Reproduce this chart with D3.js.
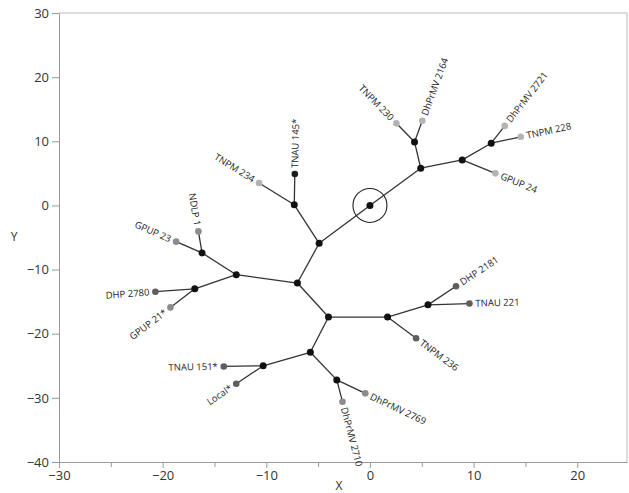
<!DOCTYPE html>
<html>
<head>
<meta charset="utf-8">
<script src="https://cdn.jsdelivr.net/npm/d3@7"></script>
<style>
  body { margin: 0; background: #fff; }
  text { font-family: "Open Sans", "Noto Sans", sans-serif; }
</style>
</head>
<body>
<div id="chart"></div>
<script>
// internal (unlabelled) nodes of the tree
const nodes = [
  {id: "root", x: 0, y: 0},
  {id: "A", x: 4.9, y: 5.8},
  {id: "B", x: 4.3, y: 9.9},
  {id: "C", x: 8.9, y: 7.1},
  {id: "D", x: 11.7, y: 9.7},
  {id: "E", x: -7.3, y: 0.1},
  {id: "F", x: -4.9, y: -5.9},
  {id: "G", x: -16.2, y: -7.4},
  {id: "H", x: -12.9, y: -10.8},
  {id: "I", x: -7.0, y: -12.1},
  {id: "J", x: -16.9, y: -13.0},
  {id: "K", x: -5.75, y: -22.9},
  {id: "L", x: -10.3, y: -25.0},
  {id: "M", x: -4.0, y: -17.4},
  {id: "N", x: 1.7, y: -17.4},
  {id: "O", x: 5.6, y: -15.5},
  {id: "P", x: -3.2, y: -27.2}
];

// labelled leaves, shade = grey level group
const leaves = [
  {id: "TNPM 230", x: 2.55, y: 12.8, shade: 1},
  {id: "DhPrMV 2164", x: 5.05, y: 13.2, shade: 1},
  {id: "DhPrMV 2721", x: 13.0, y: 12.4, shade: 1},
  {id: "TNPM 228", x: 14.55, y: 10.7, shade: 1},
  {id: "GPUP 24", x: 12.1, y: 5.0, shade: 1},
  {id: "TNAU 145*", x: -7.25, y: 4.9, shade: 4},
  {id: "TNPM 234", x: -10.7, y: 3.5, shade: 1},
  {id: "NDLP 1", x: -16.55, y: -4.05, shade: 2},
  {id: "GPUP 23", x: -18.7, y: -5.65, shade: 2},
  {id: "DHP 2780", x: -20.7, y: -13.45, shade: 3},
  {id: "GPUP 21*", x: -19.25, y: -15.9, shade: 2},
  {id: "TNAU 151*", x: -14.1, y: -25.1, shade: 3},
  {id: "Local*", x: -12.9, y: -27.8, shade: 3},
  {id: "DHP 2181", x: 8.3, y: -12.6, shade: 3},
  {id: "TNAU 221", x: 9.6, y: -15.3, shade: 3},
  {id: "TNPM 236", x: 4.45, y: -20.7, shade: 3},
  {id: "DhPrMV 2769", x: -0.45, y: -29.3, shade: 2},
  {id: "DhPrMV 2710", x: -2.65, y: -30.6, shade: 2}
];

const edges = [
  ["root", "A"], ["A", "B"], ["B", "TNPM 230"], ["B", "DhPrMV 2164"],
  ["A", "C"], ["C", "D"], ["D", "DhPrMV 2721"], ["D", "TNPM 228"], ["C", "GPUP 24"],
  ["root", "F"], ["F", "E"], ["E", "TNAU 145*"], ["E", "TNPM 234"],
  ["F", "I"], ["I", "H"], ["H", "G"], ["G", "NDLP 1"], ["G", "GPUP 23"],
  ["H", "J"], ["J", "DHP 2780"], ["J", "GPUP 21*"],
  ["I", "M"], ["M", "N"], ["N", "O"], ["O", "DHP 2181"], ["O", "TNAU 221"], ["N", "TNPM 236"],
  ["M", "K"], ["K", "L"], ["L", "TNAU 151*"], ["L", "Local*"],
  ["K", "P"], ["P", "DhPrMV 2769"], ["P", "DhPrMV 2710"]
];

const xTicks = [-30, -20, -10, 0, 10, 20];
const xMinor = [-25, -15, -5, 5, 15];
const yTicks = [-40, -30, -20, -10, 0, 10, 20, 30];

const width = 629, height = 493;
const margin = ({top: 13, right: 2, bottom: 31, left: 59});

const svg = d3.select("#chart").append("svg").attr("width", width).attr("height", height);

const xscale = d3.scaleLinear()
  .domain([-30, 24.8])
  .range([margin.left, width - margin.right]);

const yscale = d3.scaleLinear()
  .domain([-40, 30])
  .range([height - margin.bottom, margin.top]);

const shadeColor = d3.scaleOrdinal()
  .domain([1, 2, 3, 4])
  .range(["#b3b3b3", "#8c8c8c", "#5e5e5e", "#1a1a1a"]);

// frame (top + right)
svg.append("path")
  .attr("fill", "none")
  .attr("stroke", "#bbb")
  .attr("d", `M${xscale.range()[0]},${yscale.range()[1]}H${xscale.range()[1]}V${yscale.range()[0]}`);

const styleAxis = g => {
  g.select(".domain").attr("stroke", "#999");
  g.selectAll(".tick line").attr("stroke", "#999");
  g.selectAll(".tick text").attr("fill", "#333").attr("font-size", 13)
    .attr("font-family", "'Open Sans', sans-serif");
};

svg.append("g")
  .attr("transform", `translate(0,${yscale.range()[0]})`)
  .call(d3.axisBottom(xscale).tickValues(xMinor).tickSize(5).tickFormat(""))
  .call(g => g.select(".domain").remove())
  .call(g => g.selectAll("line").attr("stroke", "#999"));

svg.append("g")
  .attr("transform", `translate(0,${yscale.range()[0]})`)
  .call(d3.axisBottom(xscale).tickValues(xTicks).tickSize(6).tickPadding(3).tickSizeOuter(0))
  .call(styleAxis);

svg.append("g")
  .attr("transform", `translate(${xscale.range()[0]},0)`)
  .call(d3.axisLeft(yscale).tickValues(yTicks).tickSize(7).tickPadding(3).tickSizeOuter(0))
  .call(styleAxis);

svg.append("text")
  .attr("x", xscale(-3))
  .attr("y", height - 3)
  .attr("text-anchor", "middle")
  .attr("font-size", 12)
  .attr("fill", "#333")
  .text("X");

svg.append("text")
  .attr("x", 14)
  .attr("y", yscale(-5.5))
  .attr("text-anchor", "middle")
  .attr("font-size", 12)
  .attr("fill", "#333")
  .text("Y");

// lookup
const byId = new Map();
nodes.forEach(d => byId.set(d.id, d));
leaves.forEach(d => byId.set(d.id, d));

// branches
svg.append("g")
  .attr("stroke", "#333")
  .attr("stroke-width", 1.3)
  .selectAll("line")
  .data(edges)
  .join("line")
  .attr("x1", d => xscale(byId.get(d[0]).x))
  .attr("y1", d => yscale(byId.get(d[0]).y))
  .attr("x2", d => xscale(byId.get(d[1]).x))
  .attr("y2", d => yscale(byId.get(d[1]).y));

// root marker
svg.append("circle")
  .attr("cx", xscale(0))
  .attr("cy", yscale(0))
  .attr("r", 17)
  .attr("fill", "none")
  .attr("stroke", "#222")
  .attr("stroke-width", 1.1);

svg.append("g")
  .attr("fill", "#111")
  .selectAll("circle")
  .data(nodes)
  .join("circle")
  .attr("cx", d => xscale(d.x))
  .attr("cy", d => yscale(d.y))
  .attr("r", 3.5);

svg.append("g")
  .selectAll("circle")
  .data(leaves)
  .join("circle")
  .attr("fill", d => shadeColor(d.shade))
  .attr("cx", d => xscale(d.x))
  .attr("cy", d => yscale(d.y))
  .attr("r", 3.3);

// parent of each leaf, used to orient its label along the branch
const parentOf = new Map(edges.map(e => [e[1], e[0]]));

svg.append("g")
  .attr("font-size", 9.5)
  .attr("fill", "#222")
  .selectAll("text")
  .data(leaves)
  .join("text")
  .each(function(d) {
    const p = byId.get(parentOf.get(d.id));
    const lx = xscale(d.x), ly = yscale(d.y);
    let ang = Math.atan2(ly - yscale(p.y), lx - xscale(p.x)) * 180 / Math.PI;
    let anchor = "start";
    if (ang > 90 || ang < -90) { ang += 180; anchor = "end"; }
    const off = anchor === "start" ? 6 : -6;
    d3.select(this)
      .attr("transform", `translate(${lx},${ly}) rotate(${ang})`)
      .attr("x", off)
      .attr("dy", "0.35em")
      .attr("text-anchor", anchor)
      .text(d.id);
  });
</script>
</body>
</html>
